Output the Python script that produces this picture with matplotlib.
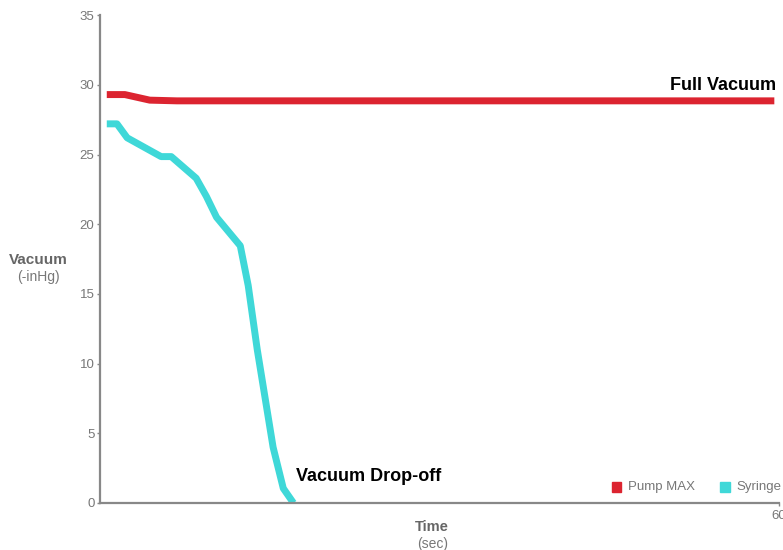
import matplotlib
matplotlib.use("Agg")
import matplotlib.pyplot as plt
from matplotlib.patches import Rectangle

plt.rcParams["font.family"] = ["Liberation Sans", "DejaVu Sans"]

# values
pump_time = [0.6, 2.2, 4.4, 6.8, 59.6]
pump_vacuum = [29.3, 29.3, 28.9, 28.85, 28.85]

syringe_time = [0.6, 1.5, 2.4, 5.4, 6.3, 8.5, 9.4, 10.3, 12.4, 13.1, 13.9, 15.3, 16.2, 17.1]
syringe_vacuum = [27.2, 27.2, 26.2, 24.85, 24.85, 23.3, 22.0, 20.5, 18.45, 15.6, 11.0, 4.0, 1.05, 0.0]

y_ticks = [0, 5, 10, 15, 20, 25, 30, 35]
x_ticks = [60]

RED = "#dc2430"
CYAN = "#3fd8d8"
GRAY = "#777777"

fig = plt.figure(figsize=(7.83, 5.50), dpi=100)
ax = fig.add_axes([0.1277, 0.0855, 0.867, 0.887])

ax.plot(pump_time, pump_vacuum, color=RED, lw=5, solid_capstyle="butt")
ax.plot(syringe_time, syringe_vacuum, color=CYAN, lw=5, solid_capstyle="butt")

ax.set_xlim(0, 60)
ax.set_ylim(0, 35)
ax.set_yticks(y_ticks)
ax.set_xticks(x_ticks)
for side in ("top", "right"):
    ax.spines[side].set_visible(False)
for side in ("left", "bottom"):
    ax.spines[side].set_color("#888888")
    ax.spines[side].set_linewidth(1.6)
ax.tick_params(axis="both", colors="#888888", labelcolor=GRAY, labelsize=9.5,
               length=2, width=1, pad=2)
ax.tick_params(axis="x", pad=3)

ax.text(59.8, 29.35, "Full Vacuum", fontsize=13, fontweight="bold", ha="right", va="bottom")
ax.text(17.3, 1.3, "Vacuum Drop-off", fontsize=13, fontweight="bold", ha="left", va="bottom")

fig.text(0.049, 0.527, "Vacuum", fontsize=11, fontweight="bold", color="#666666", ha="center", va="center")
fig.text(0.049, 0.497, "(-inHg)", fontsize=10, color=GRAY, ha="center", va="center")
fig.text(0.552, 0.042, "Time", fontsize=10.5, fontweight="bold", color="#666666", ha="center", va="center")
fig.text(0.552, 0.011, "(sec)", fontsize=10, color=GRAY, ha="center", va="center")

# legend
for x0, color, label in [(0.781, RED, "Pump MAX"), (0.920, CYAN, "Syringe")]:
    fig.patches.append(Rectangle((x0, 0.106), 0.0125, 0.018, transform=fig.transFigure,
                                 color=color))
    fig.text(x0 + 0.021, 0.115, label, fontsize=9.5, color=GRAY, ha="left", va="center")

fig.savefig("out.png", dpi=100)
